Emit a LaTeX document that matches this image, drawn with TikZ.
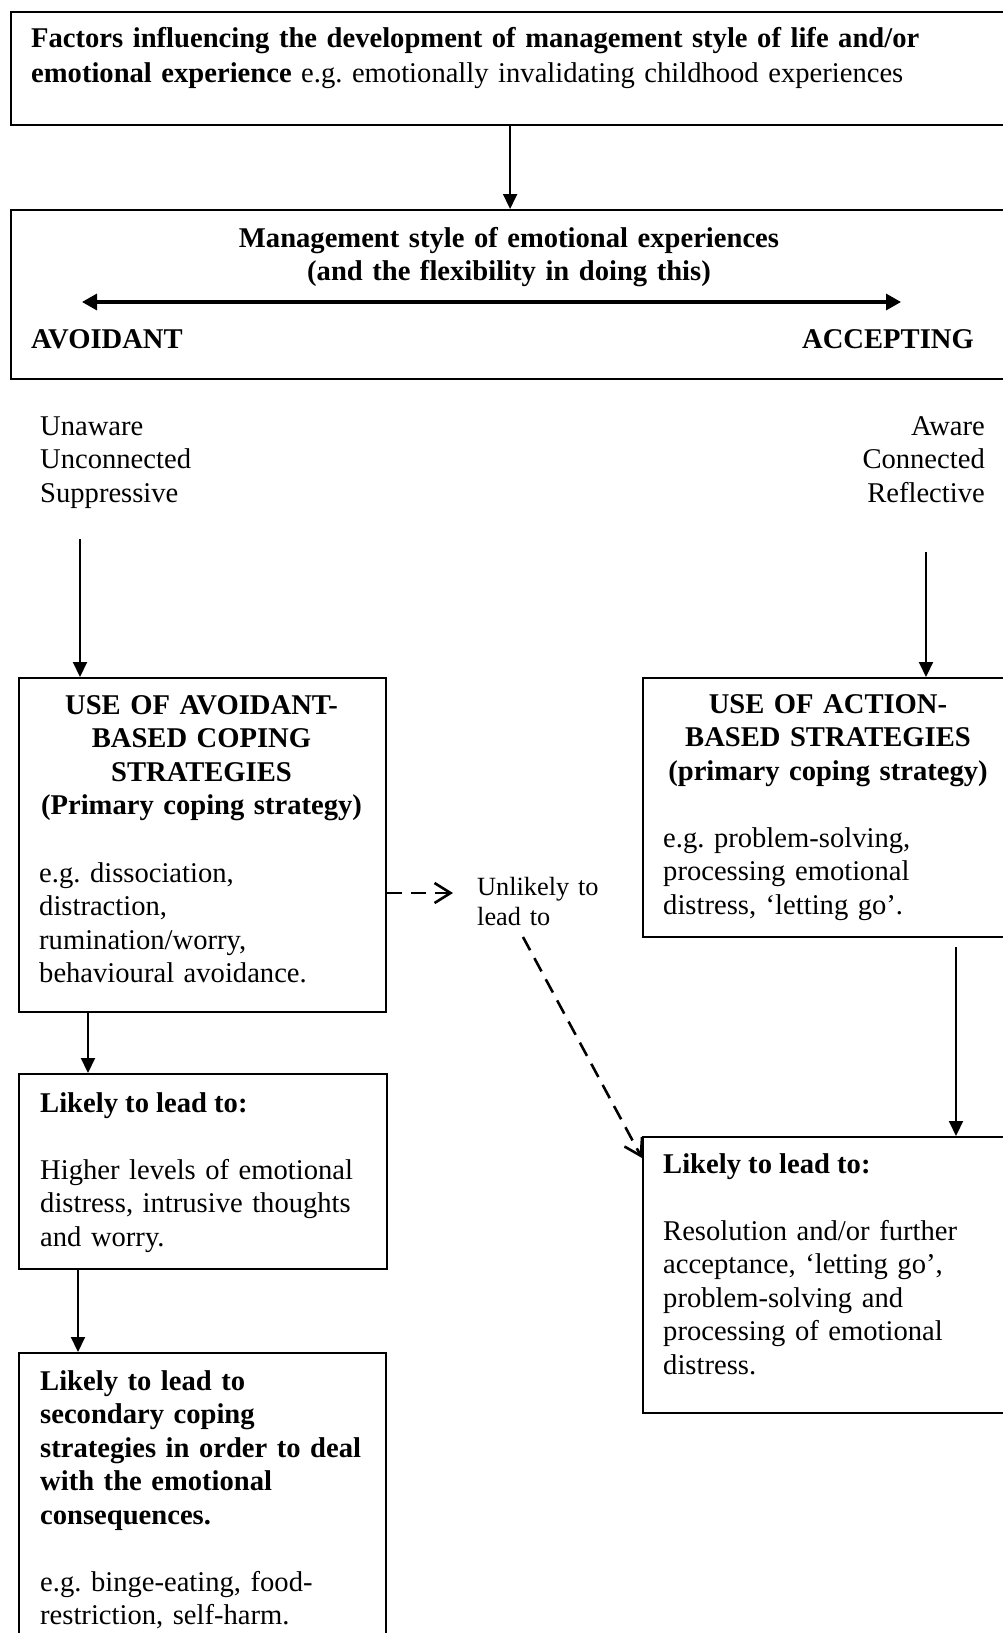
\documentclass[tikz,border=0pt]{standalone}
\usepackage{fontspec}
\setmainfont{Liberation Serif}
\usetikzlibrary{arrows.meta}
\frenchspacing

\tikzset{
  box/.style={draw, line width=2.2pt, anchor=north west, inner sep=0pt},
  head/.style={font=\fontsize{28.6}{33.6}\selectfont\bfseries},
  small/.style={font=\fontsize{26.3}{30}\selectfont},
  link/.style={line width=2pt, -{Triangle[length=15pt,width=14pt]}},
  both/.style={line width=3.2pt, {Triangle[length=15pt,width=16pt]}-{Triangle[length=15pt,width=16pt]}},
  maybe/.style={line width=2.6pt, dash pattern=on 15pt off 9pt, -{Straight Barb[length=16pt,width=20pt]}},
}

\begin{document}
\begin{tikzpicture}[x=1pt, y=-1pt, inner sep=0pt, font=\fontsize{28.6}{33.6}\selectfont]
  \useasboundingbox (0,0) rectangle (1003,1633);
  \clip (0,0) rectangle (1003,1633);

  % boxes
  \node[box, minimum width=998pt, minimum height=113pt] (b1) at (10,11) {};
  \node[box, minimum width=998pt, minimum height=169pt] (b2) at (10,209) {};
  \node[box, minimum width=367pt, minimum height=334pt] (b3) at (18,677) {};
  \node[box, minimum width=370pt, minimum height=259pt] (b4) at (642,677) {};
  \node[box, minimum width=368pt, minimum height=195pt] (b5) at (18,1073) {};
  \node[box, minimum width=370pt, minimum height=276pt] (b6) at (642,1136) {};
  \node[box, minimum width=367pt, minimum height=320pt] (b7) at (18,1352) {};

  % texts
  \node[anchor=base west, text width=980pt, align=left, font=\fontsize{28.6}{35}\selectfont] (t1) at (31,47)
    {\textbf{Factors influencing the development of management style of life and/or}\\
     \textbf{emotional experience} e.g. emotionally invalidating childhood experiences};
  \node[head, anchor=base, text width=900pt, align=center] (t2) at (509,247)
    {Management style of emotional experiences\\(and the flexibility in doing this)};
  \node[head, anchor=base west] (avd) at (31,348) {AVOIDANT};
  \node[head, anchor=base east] (acc) at (974,348) {ACCEPTING};

  \node[anchor=base west, text width=300pt, align=left] (lft) at (40,435) {Unaware\\Unconnected\\Suppressive};
  \node[anchor=base east, text width=300pt, align=right] (rgt) at (985,435) {Aware\\Connected\\Reflective};

  \node[head, anchor=base, text width=360pt, align=center] (t3a) at (201.5,714)
    {USE OF AVOIDANT-\\BASED COPING\\STRATEGIES\\(Primary coping strategy)};
  \node[anchor=base west, text width=340pt, align=left] (t3b) at (39,882)
    {e.g. dissociation,\\distraction,\\rumination/worry,\\behavioural avoidance.};

  \node[head, anchor=base, text width=360pt, align=center] (t4a) at (828,713)
    {USE OF ACTION-\\BASED STRATEGIES\\(primary coping strategy)};
  \node[anchor=base west, text width=330pt, align=left] (t4b) at (663,847)
    {e.g. problem-solving,\\processing emotional\\distress, ‘letting go’.};

  \node[small, anchor=base west, text width=150pt, align=left] (unl) at (477,895) {Unlikely to\\lead to};

  \node[head, anchor=base west] (t5a) at (40,1112) {Likely to lead to:};
  \node[anchor=base west, text width=340pt, align=left] (t5b) at (40,1179)
    {Higher levels of emotional\\distress, intrusive thoughts\\and worry.};

  \node[head, anchor=base west] (t6a) at (663,1173) {Likely to lead to:};
  \node[anchor=base west, text width=330pt, align=left] (t6b) at (663,1240)
    {Resolution and/or further\\acceptance, ‘letting go’,\\problem-solving and\\processing of emotional\\distress.};

  \node[head, anchor=base west, text width=340pt, align=left] (t7a) at (40,1390)
    {Likely to lead to\\secondary coping\\strategies in order to deal\\with the emotional\\consequences.};
  \node[anchor=base west, text width=340pt, align=left] (t7b) at (40,1591)
    {e.g. binge-eating, food-\\restriction, self-harm.};

  % connectors
  \coordinate (ml) at (82,302);
  \coordinate (mr) at (901,302);
  \coordinate (s1) at (80,539);
  \coordinate (s2) at (926,552);
  \coordinate (u1) at (453,893);
  \coordinate (u2) at (523,937);
  \draw[both] (ml) -- (mr);
  \begin{scope}[link]
    \draw (b1) -- (b2);
    \draw (s1) -- (s1 |- b3.north);
    \draw (s2) -- (s2 |- b4.north);
    \draw ([xshift=70pt]b3.south west) -- ([xshift=70pt]b5.north west);
    \draw ([xshift=60pt]b5.south west) -- ([xshift=60pt]b7.north west);
    \draw[shorten <=9pt] ([xshift=314pt]b4.south west) -- ([xshift=314pt]b6.north west);
  \end{scope}
  \draw[maybe] (b3.east |- u1) -- (u1);
  \draw[maybe] (u2) -- ([yshift=-22pt]b6.north west);
\end{tikzpicture}
\end{document}
